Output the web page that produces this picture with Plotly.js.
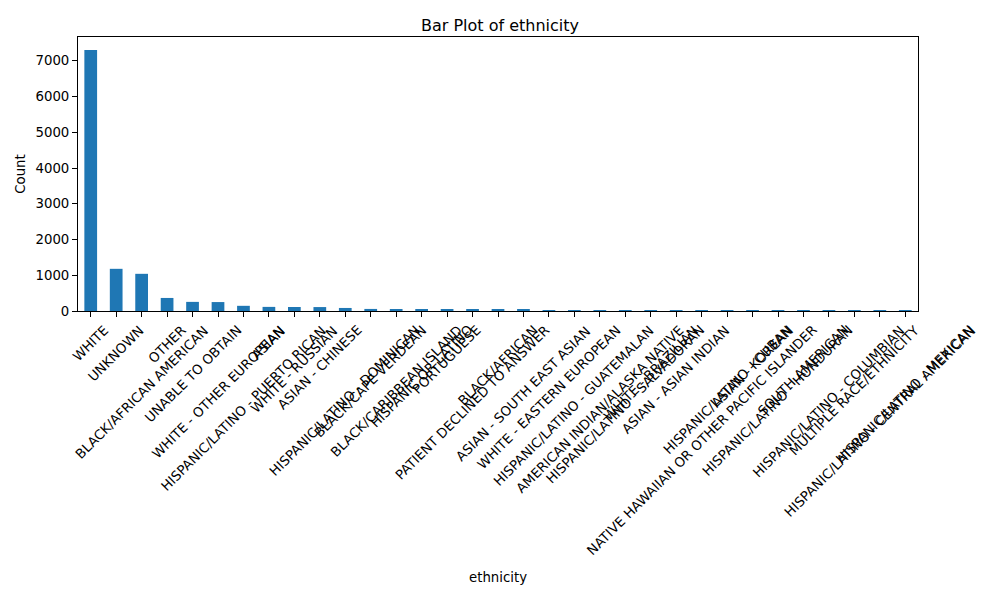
<!DOCTYPE html>
<html><head><script src="https://cdn.plot.ly/plotly-3.0.1.min.js"></script></head>
<body style="margin:0"><div id="c" style="width:1000px;height:600px"></div>
<script>
const categories = ["WHITE","UNKNOWN","BLACK/AFRICAN AMERICAN","OTHER","UNABLE TO OBTAIN","WHITE - OTHER EUROPEAN","HISPANIC/LATINO - PUERTO RICAN","ASIAN","WHITE - RUSSIAN","ASIAN - CHINESE","HISPANIC/LATINO - DOMINICAN","BLACK/CAPE VERDEAN","BLACK/CARIBBEAN ISLAND","HISPANIC OR LATINO","PORTUGUESE","PATIENT DECLINED TO ANSWER","BLACK/AFRICAN","ASIAN - SOUTH EAST ASIAN","WHITE - EASTERN EUROPEAN","HISPANIC/LATINO - GUATEMALAN","AMERICAN INDIAN/ALASKA NATIVE","HISPANIC/LATINO - SALVADORAN","WHITE - BRAZILIAN","ASIAN - ASIAN INDIAN","NATIVE HAWAIIAN OR OTHER PACIFIC ISLANDER","HISPANIC/LATINO - CUBAN","ASIAN - KOREAN","HISPANIC/LATINO - HONDURAN","SOUTH AMERICAN","HISPANIC/LATINO - COLUMBIAN","MULTIPLE RACE/ETHNICITY","HISPANIC/LATINO - CENTRAL AMERICAN","HISPANIC/LATINO - MEXICAN"];
const counts = [7300,1180,1040,365,255,250,145,115,112,110,85,58,56,55,54,50,40,30,28,26,24,20,18,16,14,12,11,10,9,8,7,6,5];
const font = {family:"DejaVu Sans", size:13.3, color:"#000"};
const ann = categories.map((c,i)=>({x:i, y:0, xref:"x", yref:"paper", text:c, textangle:-45, showarrow:false, xanchor:"center", yanchor:"top", yshift:-9, font:font}));
Plotly.newPlot("c",[{type:"bar",x:categories.map((c,i)=>i),y:counts,width:0.5,marker:{color:"#1f77b4"}}],{
 width:1000,height:600,margin:{l:78,r:82,t:37,b:289},
 paper_bgcolor:"#fff",plot_bgcolor:"#fff",font:font,showlegend:false,
 title:{text:"Bar Plot of ethnicity",font:{family:"DejaVu Sans",size:16,color:"#000"},x:0.5,xanchor:"center",y:0.958,yanchor:"middle"},
 xaxis:{range:[-0.5,32.5],tickvals:categories.map((c,i)=>i),showticklabels:false,ticks:"outside",ticklen:5,tickcolor:"#000",showgrid:false,zeroline:false,showline:true,linecolor:"#000",mirror:true},
 yaxis:{range:[0,7665],tickvals:[0,1000,2000,3000,4000,5000,6000,7000],ticks:"outside",ticklen:5,tickcolor:"#000",showgrid:false,zeroline:false,showline:true,linecolor:"#000",mirror:true,
  title:{text:"Count",font:font,standoff:6}},
 annotations:ann.concat([{x:0.5,xref:"paper",y:-0.973,yref:"paper",text:"ethnicity",showarrow:false,font:font,yanchor:"middle"}])
},{displayModeBar:false});
</script></body></html>
